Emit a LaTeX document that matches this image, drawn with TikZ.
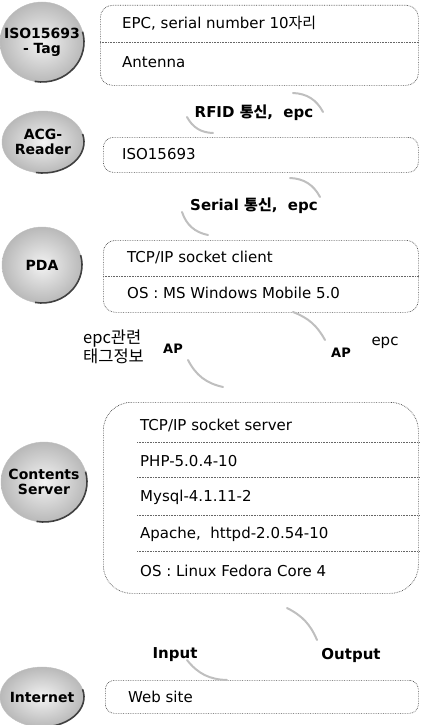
\documentclass[tikz,border=0pt]{standalone}
\usepackage{fontspec}
\setmainfont{DejaVu Sans}
\newfontfamily\kr{Noto Sans CJK KR}
\usetikzlibrary{shapes.geometric,calc}
\begin{document}
\begin{tikzpicture}[x=1pt,y=1pt,
  blob/.style={ellipse, inner sep=0pt, shade, inner color=gray!10, outer color=gray!55, draw=gray!50, line width=0.4pt},
  blobtxt/.style={font=\bfseries\fontsize{14}{15}\selectfont, align=center, inner sep=0pt},
  box/.style={draw=black!70, densely dotted, line width=0.7pt, anchor=north west, inner sep=0pt},
  div/.style={draw=black!60, densely dotted, line width=0.6pt},
  txt/.style={anchor=west, inner sep=0pt, font=\fontsize{15}{16}\selectfont},
  lbl/.style={inner sep=0pt, font=\bfseries\fontsize{15}{15}\selectfont},
  flow/.style={draw=gray!50, line width=2pt, line cap=round},
  rim/.style={draw=black!75, line width=1.6pt}
]
\useasboundingbox (0,0) rectangle (422,-725);

% ---------- circles ----------
\node[blob, minimum width=84, minimum height=80] (c1) at (42,-42) {};
\draw[rim] ($(c1.center)+(-100:42 and 40)$) arc[start angle=-100,end angle=15,x radius=42,y radius=40];
\node[blobtxt] (t1) at (c1) {ISO15693\\- Tag};

\node[blob, minimum width=82, minimum height=62] (c2) at (43,-142) {};
\draw[rim] ($(c2.center)+(-100:41 and 31)$) arc[start angle=-100,end angle=15,x radius=41,y radius=31];
\node[blobtxt] (t2) at (c2) {ACG-\\Reader};

\node[blob, minimum width=80, minimum height=76] (c3) at (42,-265) {};
\draw[rim] ($(c3.center)+(-100:40 and 38)$) arc[start angle=-100,end angle=15,x radius=40,y radius=38];
\node[blobtxt] (t3) at (c3) {PDA};

\node[blob, minimum width=86, minimum height=80] (c4) at (44,-482) {};
\draw[rim] ($(c4.center)+(-100:43 and 40)$) arc[start angle=-100,end angle=15,x radius=43,y radius=40];
\node[blobtxt] (t4) at (c4) {Contents\\Server};

\node[blob, minimum width=84, minimum height=60] (c5) at (42,-697) {};
\draw[rim] ($(c5.center)+(-100:42 and 30)$) arc[start angle=-100,end angle=15,x radius=42,y radius=30];
\node[blobtxt] (t5) at (c5) {Internet};

% ---------- boxes ----------
\node[box, minimum width=318, minimum height=80, rounded corners=12] (b1) at (100,-5) {};
\draw[div] (b1.west |- 0,-42) -- (b1.east |- 0,-42);
\node[txt] (b1a) at (122,-23) {EPC, serial number 10{\kr 자리}};
\node[txt] (b1b) at (122,-62) {Antenna};

\node[box, minimum width=315, minimum height=35, rounded corners=10] (b2) at (103,-137) {};
\node[txt] (b2a) at (122,-154) {ISO15693};

\node[box, minimum width=315, minimum height=72, rounded corners=12] (b3) at (103,-240) {};
\draw[div] (b3.west |- 0,-276) -- (b3.east |- 0,-276);
\node[txt] (b3a) at (127,-257) {TCP/IP socket client};
\node[txt] (b3b) at (127,-293) {OS : MS Windows Mobile 5.0};

\node[box, minimum width=315, minimum height=191, rounded corners=28] (b4) at (103,-402) {};
\foreach \yy in {442,477,515,551}
  \draw[div] (137,-\yy) -- (b4.east |- 0,-\yy);
\node[txt] (b4a) at (140,-425) {TCP/IP socket server};
\node[txt] (b4b) at (140,-461) {PHP-5.0.4-10};
\node[txt] (b4c) at (140,-497) {Mysql-4.1.11-2};
\node[txt] (b4d) at (140,-534) {Apache,\ \ httpd-2.0.54-10};
\node[txt] (b4e) at (140,-571) {OS : Linux Fedora Core 4};

\node[box, minimum width=313, minimum height=33, rounded corners=9] (b5) at (105,-680) {};
\node[txt] (b5a) at (128,-697) {Web site};

% ---------- labels ----------
\node[lbl] (l1) at (254,-113) {RFID {\kr\bfseries 통신},\ \ epc};
\node[lbl] (l2) at (254,-206) {Serial {\kr\bfseries 통신},\ \ epc};
\node[anchor=west, inner sep=0pt, align=left, font=\kr\fontsize{16.5}{15}\selectfont] (l3) at (83,-347) {epc관련\\태그정보};
\node[lbl, font=\bfseries\fontsize{13}{13}\selectfont] (l4) at (173,-349) {AP};
\node[lbl, font=\bfseries\fontsize{13}{13}\selectfont] (l5) at (341,-353) {AP};
\node[inner sep=0pt, font=\fontsize{15}{15}\selectfont] (l6) at (385,-343) {epc};
\node[lbl] (l7) at (175,-655) {Input};
\node[lbl] (l8) at (351,-655) {Output};

% ---------- flow strokes ----------
\coordinate (f1a) at (293,-93);  \coordinate (f1b) at (323,-112);
\coordinate (f2a) at (187,-117); \coordinate (f2b) at (213,-133);
\draw[flow] (f1a) to[bend left=30] (f1b);
\draw[flow] (f2a) to[bend right=30] (f2b);

\coordinate (f3a) at (290,-178); \coordinate (f3b) at (320,-197);
\coordinate (f4a) at (182,-212); \coordinate (f4b) at (208,-235);
\draw[flow] (f3a) to[bend left=30] (f3b);
\draw[flow] (f4a) to[bend right=30] (f4b);

\coordinate (f5a) at (293,-312); \coordinate (f5b) at (325,-340);
\coordinate (f6a) at (188,-360); \coordinate (f6b) at (223,-387);
\draw[flow] (f5a) to[bend left=20] (f5b);
\draw[flow] (f6a) to[bend right=25] (f6b);

\coordinate (f7a) at (287,-608); \coordinate (f7b) at (317,-640);
\coordinate (f8a) at (187,-660); \coordinate (f8b) at (227,-680);
\draw[flow] (f7a) to[bend left=20] (f7b);
\draw[flow] (f8a) to[bend right=25] (f8b);
\end{tikzpicture}
\end{document}
